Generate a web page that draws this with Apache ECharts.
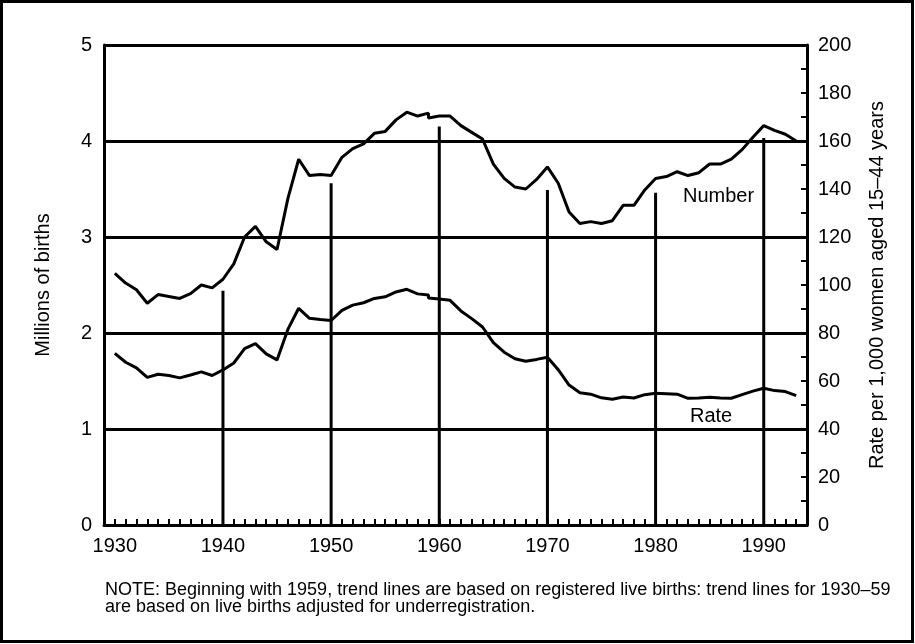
<!DOCTYPE html>
<html>
<head>
<meta charset="utf-8">
<script src="https://cdn.jsdelivr.net/npm/echarts@6/dist/echarts.min.js"></script>
<style>
html,body{margin:0;padding:0;background:#fff;}
#chart{width:915px;height:644px;}
</style>
</head>
<body>
<div id="chart"></div>
<script>
// Years (1959 appears twice: adjusted for underregistration, then registered births)
const years = [1930,1931,1932,1933,1934,1935,1936,1937,1938,1939,
  1940,1941,1942,1943,1944,1945,1946,1947,1948,1949,
  1950,1951,1952,1953,1954,1955,1956,1957,1958,1959,1959,
  1960,1961,1962,1963,1964,1965,1966,1967,1968,1969,
  1970,1971,1972,1973,1974,1975,1976,1977,1978,1979,
  1980,1981,1982,1983,1984,1985,1986,1987,1988,1989,
  1990,1991,1992,1993];
// Number of births, millions (left axis)
const numberMillions = [2.62,2.52,2.45,2.31,2.40,2.38,2.36,2.41,2.50,2.47,
  2.56,2.72,3.00,3.11,2.95,2.87,3.40,3.81,3.64,3.65,
  3.64,3.83,3.92,3.97,4.08,4.10,4.22,4.30,4.26,4.29,4.24,
  4.26,4.26,4.16,4.09,4.02,3.76,3.61,3.52,3.50,3.60,
  3.73,3.56,3.26,3.14,3.16,3.14,3.17,3.33,3.33,3.49,
  3.61,3.63,3.68,3.64,3.67,3.76,3.76,3.81,3.91,4.04,
  4.16,4.11,4.07,4.00];
// Rate per 1,000 women aged 15-44 (right axis)
const rateValues = [71.5,67.8,65.5,61.5,62.8,62.3,61.3,62.5,63.8,62.3,
  64.6,67.5,73.5,75.6,71.3,68.8,81.5,90.3,86.1,85.6,
  85.2,89.4,91.6,92.6,94.4,95.1,97.1,98.2,96.3,95.8,94.6,
  94.2,93.6,89.2,86.0,82.5,76.0,72.0,69.3,68.2,69.0,
  69.9,64.7,58.3,55.1,54.5,53.0,52.4,53.3,52.9,54.3,
  54.9,54.7,54.5,52.8,52.9,53.2,52.9,52.8,54.3,55.8,
  57.0,56.0,55.6,53.9];
// Vertical reference lines (decade years) and their heights on the left axis
const dropYears = [1940,1950,1960,1970,1980,1990];
const dropHeights = [2.44,3.56,4.15,3.49,3.46,4.03];
// Axis tick labels
const xLabelYears = [1930,1940,1950,1960,1970,1980,1990];

const numberData = years.map((y,i)=>[y, numberMillions[i]]);
const rateData = years.map((y,i)=>[y, rateValues[i]]);
const dropData = dropYears.map((y,i)=>[y, dropHeights[i]]);

const FONT = 'Liberation Sans, Arial, Helvetica, sans-serif';
const chart = echarts.init(document.getElementById('chart'));
chart.setOption({
  animation:false,
  backgroundColor:'#fff',
  grid:{left:104,right:108,top:45,bottom:119,containLabel:false},
  xAxis:{
    type:'value',min:1929,max:1994,interval:1,
    axisLine:{show:true,lineStyle:{color:'#000',width:3}},
    axisTick:{show:true,inside:true,length:6,lineStyle:{color:'#000',width:2}},
    axisLabel:{color:'#000',fontSize:20,fontFamily:FONT,margin:11,
      formatter:v=>xLabelYears.indexOf(v)>=0?String(v):''},
    splitLine:{show:false}
  },
  yAxis:[
    {type:'value',min:0,max:5,interval:1,position:'left',
     name:'Millions of births',nameLocation:'middle',nameGap:51,nameRotate:90,
     nameTextStyle:{color:'#000',fontSize:20,fontFamily:FONT},
     axisLine:{show:true,lineStyle:{color:'#000',width:3}},
     axisTick:{show:false},
     axisLabel:{color:'#000',fontSize:20,fontFamily:FONT,margin:12},
     splitLine:{show:true,lineStyle:{color:'#000',width:3}}},
    {type:'value',min:0,max:200,interval:20,position:'right',
     name:'Rate per 1,000 women aged 15–44 years',nameLocation:'middle',nameGap:60,nameRotate:90,
     nameTextStyle:{color:'#000',fontSize:20,fontFamily:FONT},
     axisLine:{show:true,lineStyle:{color:'#000',width:3}},
     axisTick:{show:true,inside:true,length:6,lineStyle:{color:'#000',width:2}},
     minorTick:{show:true,splitNumber:2,length:6,lineStyle:{color:'#000',width:2}},
     axisLabel:{color:'#000',fontSize:20,fontFamily:FONT,margin:11},
     splitLine:{show:false}}
  ],
  series:[
    {type:'bar',xAxisIndex:0,yAxisIndex:0,data:dropData,barWidth:3,
     itemStyle:{color:'#000'},silent:true,z:1},
    {type:'line',name:'Number',xAxisIndex:0,yAxisIndex:0,data:numberData,
     showSymbol:false,lineStyle:{color:'#000',width:3},z:3},
    {type:'line',name:'Rate',xAxisIndex:0,yAxisIndex:1,data:rateData,
     showSymbol:false,lineStyle:{color:'#000',width:3},z:3}
  ],
  graphic:[
    {type:'rect',shape:{x:1.5,y:1.5,width:911,height:640},
     style:{fill:'none',stroke:'#000',lineWidth:3},z:100},
    {type:'text',left:683,top:186,style:{text:'Number',fill:'#000',fontSize:20,fontFamily:FONT}},
    {type:'text',left:690,top:406,style:{text:'Rate',fill:'#000',fontSize:20,fontFamily:FONT}},
    {type:'text',left:105,top:581,style:{
      text:'NOTE: Beginning with 1959, trend lines are based on registered live births: trend lines for 1930–59\nare based on live births adjusted for underregistration.',
      fill:'#000',fontSize:18,fontFamily:FONT,lineHeight:17}}
  ]
});
</script>
</body>
</html>
